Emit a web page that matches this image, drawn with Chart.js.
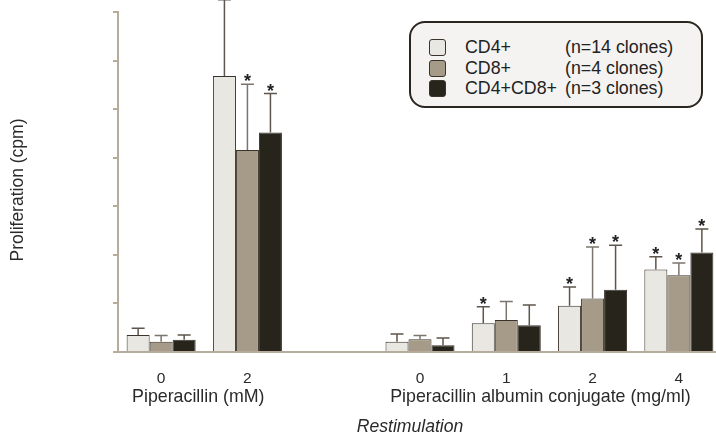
<!DOCTYPE html>
<html>
<head>
<meta charset="utf-8">
<script src="https://cdn.jsdelivr.net/npm/chart.js@4.4.1/dist/chart.umd.min.js"></script>
<style>
  html, body { margin: 0; padding: 0; background: #fff; }
  #wrap { position: relative; width: 716px; height: 439px; overflow: hidden; }
  #myChart { position: absolute; left: 0; top: 0; }
  #legend {
    position: absolute; left: 409px; top: 21px; width: 290px; height: 83px;
    border: 2px solid #2b2620; border-radius: 16px; background: #f4f3f1;
    font-family: "Liberation Sans", Arial, sans-serif; font-size: 17.8px; color: #222;
  }
  .row { position: absolute; left: 0; height: 20px; line-height: 20px; }
  .sw { position: absolute; left: 18px; top: 2px; width: 15px; height: 15px; border: 1px solid #3a332b; border-radius: 3px; }
  .nm { position: absolute; left: 54px; white-space: nowrap; }
  .nt { position: absolute; left: 154px; white-space: nowrap; }
</style>
</head>
<body>
<div id="wrap">
  <canvas id="myChart" width="724" height="439"></canvas>
  <div id="legend"></div>
</div>
<script>
// restimulation conditions (empty slot keeps the two groups apart)
const categories = ['0', '2', '', '0', '1', '2', '4'];

const seriesNames = ['CD4+', 'CD8+', 'CD4+CD8+'];
const seriesNotes = ['(n=14 clones)', '(n=4 clones)', '(n=3 clones)'];
const seriesColors = ['#e9e7e1', '#a69b88', '#27241b'];

// mean proliferation
const cd4 = [0.35, 5.68, null, 0.21, 0.59, 0.95, 1.70];
const cd8 = [0.21, 4.16, null, 0.26, 0.66, 1.10, 1.58];
const cd4cd8 = [0.25, 4.52, null, 0.14, 0.55, 1.28, 2.05];

// top of the error bars
const cd4Err = [0.49, 7.25, null, 0.37, 0.93, 1.34, 1.96];
const cd8Err = [0.34, 5.51, null, 0.34, 1.04, 2.16, 1.83];
const cd4cd8Err = [0.35, 5.32, null, 0.29, 0.97, 2.20, 2.53];

// * = significant
const cd4Sig = [0, 0, 0, 0, 1, 1, 1];
const cd8Sig = [0, 1, 0, 0, 0, 1, 1];
const cd4cd8Sig = [0, 1, 0, 0, 0, 1, 1];

const yTicks = [0, 1, 2, 3, 4, 5, 6, 7];

const groupLabels = ['Piperacillin (mM)', 'Piperacillin albumin conjugate (mg/ml)'];
const xTitle = 'Restimulation';
const yTitle = 'Proliferation (cpm)';

const errTops = [cd4Err, cd8Err, cd4cd8Err];
const sigs = [cd4Sig, cd8Sig, cd4cd8Sig];
const errColors = ['#5e554c', '#7c756e', '#5e554c'];

const FONT = '"Liberation Sans", Arial, sans-serif';
const AXIS = '#b7ab9c';

// legend box
let legend = document.getElementById('legend');
seriesNames.forEach(function(name, i) {
  let row = document.createElement('div');
  row.className = 'row';
  row.style.top = (14 + i * 20.5) + 'px';
  row.style.width = '100%';
  row.innerHTML = '<span class="sw" style="background:' + seriesColors[i] + '"></span>' +
    '<span class="nm">' + name + '</span><span class="nt">' + seriesNotes[i] + '</span>';
  legend.appendChild(row);
});

// error bars + asterisks
const errorBars = {
  id: 'errorBars',
  afterDatasetsDraw(chart) {
    const ctx = chart.ctx;
    const y = chart.scales.y;
    ctx.save();
    chart.data.datasets.forEach(function(ds, d) {
      const meta = chart.getDatasetMeta(d);
      meta.data.forEach(function(bar, i) {
        if (ds.data[i] == null) return;
        const top = y.getPixelForValue(errTops[d][i]);
        ctx.strokeStyle = errColors[d];
        ctx.lineWidth = 1.5;
        ctx.beginPath();
        ctx.moveTo(bar.x, bar.y);
        ctx.lineTo(bar.x, top);
        ctx.moveTo(bar.x - 6.5, top);
        ctx.lineTo(bar.x + 6.5, top);
        ctx.stroke();
        if (sigs[d][i]) {
          ctx.fillStyle = '#222';
          ctx.font = 'bold 18px ' + FONT;
          ctx.textAlign = 'center';
          ctx.textBaseline = 'alphabetic';
          ctx.fillText('*', bar.x, top + 3);
        }
      });
    });
    ctx.restore();
  }
};

// group labels and axis titles
const axisText = {
  id: 'axisText',
  afterDraw(chart) {
    const ctx = chart.ctx;
    const x = chart.scales.x;
    ctx.save();
    ctx.fillStyle = '#2a2a2a';
    ctx.textAlign = 'center';
    ctx.textBaseline = 'middle';
    ctx.font = '17.8px ' + FONT;
    const c1 = (x.getPixelForValue(0) + x.getPixelForValue(1)) / 2 - 6;
    const c2 = (x.getPixelForValue(3) + x.getPixelForValue(6)) / 2 - 9;
    ctx.fillText(groupLabels[0], c1, 397);
    ctx.fillText(groupLabels[1], c2, 397);
    ctx.font = 'italic 17.6px ' + FONT;
    ctx.fillText(xTitle, 410, 427);
    ctx.font = '17.5px ' + FONT;
    ctx.translate(18, 190);
    ctx.rotate(-Math.PI / 2);
    ctx.fillText(yTitle, 0, 0);
    ctx.restore();
  }
};

const ctx = document.getElementById('myChart').getContext('2d');

const proliferationChart = new Chart(ctx, {
  type: 'bar',
  data: {
    labels: categories,
    datasets: seriesNames.map(function(name, i) {
      return {
        label: name,
        data: [cd4, cd8, cd4cd8][i],
        backgroundColor: seriesColors[i],
        borderColor: '#3a332b',
        borderWidth: 1,
        barPercentage: 1,
        categoryPercentage: 0.8
      };
    })
  },
  options: {
    responsive: false,
    animation: false,
    layout: { padding: { left: 110, right: 2, top: 12, bottom: 0 } },
    plugins: { legend: { display: false }, tooltip: { enabled: false } },
    scales: {
      x: {
        grid: { display: false },
        border: { display: true, color: AXIS, width: 2 },
        ticks: { color: '#2a2a2a', font: { family: FONT, size: 15.5 }, padding: 9, maxRotation: 0, autoSkip: false },
        afterFit: function(scale) { scale.height = 87; }
      },
      y: {
        min: 0,
        max: 7,
        afterBuildTicks: function(scale) { scale.ticks = yTicks.map(function(v) { return { value: v }; }); },
        ticks: { display: false },
        grid: { drawOnChartArea: false, drawTicks: true, tickLength: 5, color: AXIS, lineWidth: 2 },
        border: { display: true, color: AXIS, width: 2 },
        afterFit: function(scale) { scale.width = 8; }
      }
    }
  },
  plugins: [errorBars, axisText]
});
</script>
</body>
</html>
